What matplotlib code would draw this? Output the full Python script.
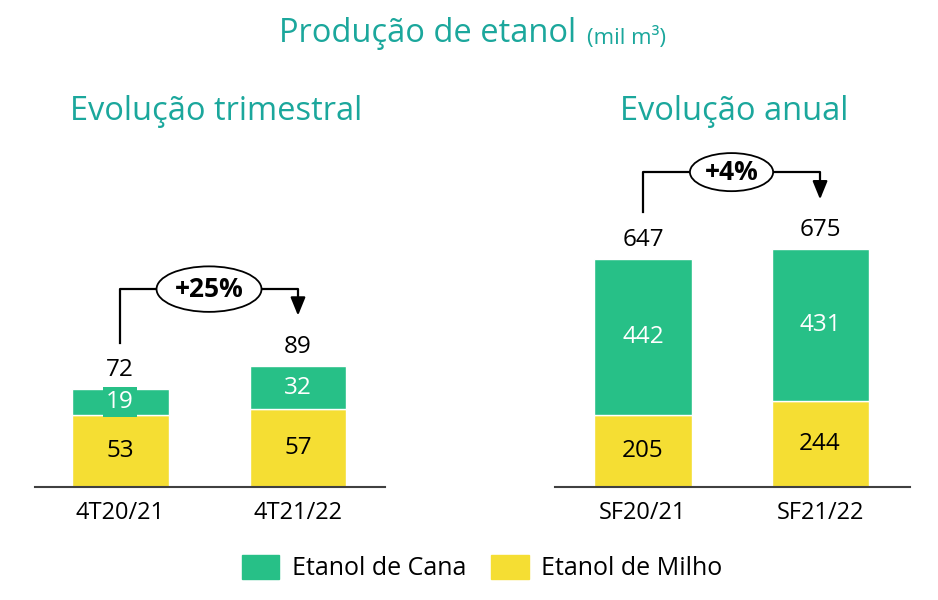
import matplotlib.pyplot as plt
from matplotlib.patches import Ellipse, Patch

plt.rcParams['font.family'] = ['Open Sans', 'DejaVu Sans']

# dados (mil m3)
tri_labels = ['4T20/21', '4T21/22']
tri_milho = [53, 57]
tri_cana = [19, 32]
tri_var = '+25%'

ano_labels = ['SF20/21', 'SF21/22']
ano_milho = [205, 244]
ano_cana = [442, 431]
ano_var = '+4%'

verde = '#27C087'
amarelo = '#F5DE33'
teal = '#1BA79C'

W, H = 938, 600
fig = plt.figure(figsize=(W / 100, H / 100), dpi=100)


def px_axes(x0, x1, y_base, y_top):
    return fig.add_axes([x0 / W, (H - y_base) / H, (x1 - x0) / W, (y_base - y_top) / H])


def draw_panel(ax, labels, milho, cana, var, ymax, xlim, width, brk, ell_w, ell_h):
    x = range(len(labels))
    ax.bar(x, milho, width, color=amarelo, edgecolor='white', linewidth=1)
    ax.bar(x, cana, width, bottom=milho, color=verde, edgecolor='white', linewidth=1)
    for i in x:
        ax.text(i, milho[i] / 2, str(milho[i]), ha='center', va='center', fontsize=17.5, color='black')
        bb = None
        if cana[i] / ymax < 0.1:
            # rotulo maior que o segmento: caixa verde atras do texto
            bb = dict(boxstyle='square,pad=0.12', fc=verde, ec='none')
        ax.text(i, milho[i] + cana[i] / 2, str(cana[i]), ha='center', va='center',
                fontsize=17.5, color='white', bbox=bb, zorder=4)
        tot = milho[i] + cana[i]
        ax.annotate(str(tot), (i, tot), xytext=(0, 5), textcoords='offset points',
                    ha='center', va='bottom', fontsize=17.5)
    y0, y1, y2 = brk
    ax.plot([0, 0, 1, 1], [y0, y1, y1, y2 + 0.04 * ymax], color='black', lw=1.6, clip_on=False)
    ax.annotate('', xy=(1, y2), xytext=(1, y2 + 0.05 * ymax),
                arrowprops=dict(arrowstyle='-|>,head_width=0.45,head_length=1.1', color='black', lw=1.6))
    ax.add_patch(Ellipse((0.5, y1), ell_w, ell_h * ymax, fc='white', ec='black', lw=1.3, zorder=5))
    ax.text(0.5, y1, var, ha='center', va='center', fontsize=19, fontweight='bold', zorder=6)
    ax.set_xlim(*xlim)
    ax.set_ylim(0, ymax)
    ax.set_xticks(list(x))
    ax.set_xticklabels(labels, fontsize=17)
    ax.tick_params(axis='x', length=0, pad=10)
    ax.set_yticks([])
    for s in ['top', 'left', 'right']:
        ax.spines[s].set_visible(False)
    ax.spines['bottom'].set_color('#404040')
    ax.spines['bottom'].set_linewidth(1.5)


ax1 = px_axes(35, 385, 487, 150)
draw_panel(ax1, tri_labels, tri_milho, tri_cana, tri_var, 337 / 1.36,
           (-0.478, 1.489), 0.545, (106, 145.5, 124), 0.59, 0.135)

ax2 = px_axes(555, 910, 487, 150)
draw_panel(ax2, ano_labels, ano_milho, ano_cana, ano_var, 337 / 0.353,
           (-0.497, 1.508), 0.548, (779, 892, 807), 0.47, 0.113)

fig.text(279 / W, 1 - 34 / H, 'Produção de etanol', fontsize=23.5, color=teal, va='center', ha='left')
fig.text(587 / W, 1 - 38 / H, '(mil m³)', fontsize=16, color=teal, va='center', ha='left')
fig.text(216 / W, 1 - 112 / H, 'Evolução trimestral', fontsize=23.5, color=teal, va='center', ha='center')
fig.text(734 / W, 1 - 112 / H, 'Evolução anual', fontsize=23.5, color=teal, va='center', ha='center')

handles = [Patch(color=verde, label='Etanol de Cana'), Patch(color=amarelo, label='Etanol de Milho')]
fig.legend(handles=handles, loc='center', bbox_to_anchor=(482 / W, 1 - 568 / H), ncol=2,
           frameon=False, fontsize=18, handlelength=1.5, handleheight=1.1,
           handletextpad=0.5, columnspacing=1.0)

fig.savefig('out.png', dpi=100)
